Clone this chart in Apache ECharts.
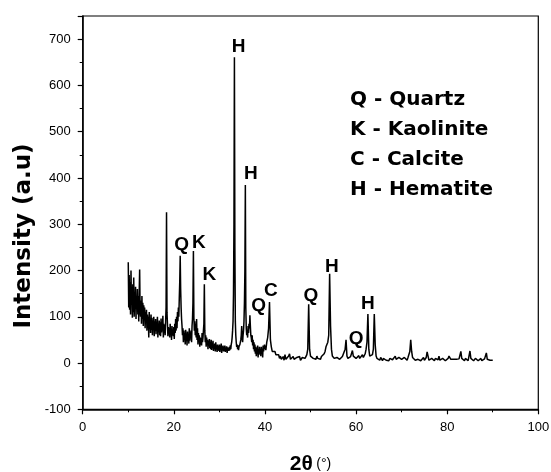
<!DOCTYPE html>
<html><head><meta charset="utf-8">
<script src="https://cdn.jsdelivr.net/npm/echarts@6/dist/echarts.min.js"></script>
<style>html,body{margin:0;padding:0;background:#fff}#c{width:551px;height:472px}</style>
</head><body><div id="c"></div>
<script>
// axis ticks
const xTicks = [0, 20, 40, 60, 80, 100];
const yTicks = [-100, 0, 100, 200, 300, 400, 500, 600, 700];

// scan part A: 10.0° - 39.9°, step 0.1°
const scanStartA = 10.0, scanStepA = 0.1;
const intensityA = [
  218,120,190,115,175,105,200,130,160,98,
  170,110,185,100,150,125,165,95,140,118,
  160,105,145,90,150,202,115,100,135,85,
  145,95,130,80,125,100,120,75,110,90,
  115,70,105,85,100,55,110,78,95,65,
  105,72,98,60,92,80,100,58,90,70,
  95,62,88,75,100,55,85,70,92,60,
  88,58,96,66,80,72,102,55,85,68,
  82,60,90,120,326,110,85,58,78,62,
  75,55,85,62,72,50,80,60,70,58,
  78,52,85,65,95,70,100,75,110,90,
  120,100,140,175,232,160,120,95,80,60,
  75,45,70,52,65,40,72,55,62,38,
  68,50,60,42,75,48,65,55,70,45,
  80,95,130,242,100,70,90,60,85,55,
  95,50,75,40,65,45,60,35,55,48,
  50,38,65,45,55,70,85,170,70,45,
  60,35,55,42,50,30,48,38,52,32,
  45,30,50,28,44,35,48,26,40,32,
  42,25,45,30,38,24,40,28,36,26,
  40,24,38,28,42,22,36,27,38,25,
  35,26,38,24,33,28,36,22,34,27,
  32,26,35,28,38,30,40,45,55,70,
  90,150,300,661,250,90,60,45,35,40,
  30,38,28,35,32,40,38,50,60,80,
  55,45,60,70,90,130,200,385,120,75,
  60,70,55,80,65,85,75,103,80,60,
  55,45,60,38,50,30,45,25,40,20,
  35,15,32,20,38,12,30,18,35,22,
  28,15,35,20,30,12,38,25,32,40
];

// scan part B: 40.0° - 90.0°, step 0.2°
const scanStartB = 40.0, scanStepB = 0.2;
const intensityB = [
  35,28,45,55,75,
  132,50,35,25,28,
  22,25,18,20,15,
  18,10,15,8,12,
  14,6,18,8,12,
  10,15,20,8,12,
  10,14,8,12,6,
  12,8,10,14,6,
  10,12,8,15,10,
  12,18,30,127,30,
  15,12,18,10,14,
  12,8,15,10,6,
  12,8,14,10,15,
  20,25,35,40,45,
  60,193,80,30,15,
  12,10,14,8,12,
  10,15,8,12,10,
  14,10,15,30,50,
  15,10,12,8,14,
  10,27,15,12,18,
  10,14,12,16,10,
  14,12,18,12,15,
  20,30,45,106,30,
  15,12,14,18,30,
  106,40,15,10,8,
  10,6,12,8,5,
  10,7,12,6,9,
  8,5,10,6,12,
  7,10,5,15,8,
  10,6,12,8,14,
  8,10,6,12,8,
  10,6,12,15,25,
  50,25,12,8,10,
  6,10,5,8,6,
  10,5,8,6,12,
  6,8,12,24,15,
  6,8,5,10,6,
  8,5,10,6,12,
  7,15,6,8,5,
  10,6,8,5,9,
  6,10,15,19,8,
  12,6,8,5,10,
  8,5,6,9,7,
  25,10,6,8,5,
  10,6,8,5,9,
  26,10,6,8,5,
  7,10,6,8,5,
  9,6,10,5,8,
  6,9,12,22,8,
  5,8,6,4,7,
  6
];

// phase labels (label centre position in data units)
const peakTheta  = [21.7, 25.5, 27.8, 34.2, 36.9, 38.6, 41.3, 50.1, 54.7, 60.0, 62.6];
const peakHeight = [256, 259, 190, 684, 408, 124, 157, 146, 209, 52, 128];
const peakPhase  = ['Q', 'K', 'K', 'H', 'H', 'Q', 'C', 'Q', 'H', 'Q', 'H'];

const legendLines = ['Q - Quartz', 'K - Kaolinite', 'C - Calcite', 'H - Hematite'];

const scan = [];
intensityA.forEach((v, i) => scan.push([+(scanStartA + i * scanStepA).toFixed(2), v]));
intensityB.forEach((v, i) => scan.push([+(scanStartB + i * scanStepB).toFixed(2), v]));
const peakData = peakTheta.map((t, i) => [t, peakHeight[i]]);

const chart = echarts.init(document.getElementById('c'), null, {renderer: 'canvas'});
const legendY = [100, 130, 160, 190];
chart.setOption({
  animation: false,
  backgroundColor: '#fff',
  grid: {left: 82.7, right: 12.7, top: 16, bottom: 62.7, outerBoundsMode: 'none', containLabel: false,
    show: true, borderColor: '#000', borderWidth: 1.2, backgroundColor: 'transparent'},
  xAxis: {
    type: 'value', min: xTicks[0], max: xTicks[xTicks.length - 1], interval: 20,
    axisLine: {onZero: false, lineStyle: {color: '#000', width: 1.5}},
    axisTick: {inside: false, length: 5, lineStyle: {color: '#000', width: 1.2}},
    minorTick: {show: true, splitNumber: 2, length: 3, lineStyle: {color: '#000', width: 1}},
    splitLine: {show: false},
    axisLabel: {color: '#000', fontFamily: 'Liberation Sans', fontSize: 13, margin: 12},
    name: '{b|2θ} {n|(°)}', nameLocation: 'middle', nameGap: 44,
    nameTextStyle: {rich: {
      b: {fontFamily: 'Liberation Sans', fontWeight: 'bold', fontSize: 21, color: '#000'},
      n: {fontFamily: 'Liberation Sans', fontSize: 14, color: '#000'}
    }}
  },
  yAxis: {
    type: 'value', min: yTicks[0], max: 750, interval: 100,
    axisLine: {onZero: false, lineStyle: {color: '#000', width: 1.5}},
    axisTick: {inside: false, length: 5, lineStyle: {color: '#000', width: 1.2}},
    minorTick: {show: true, splitNumber: 2, length: 3, lineStyle: {color: '#000', width: 1}},
    splitLine: {show: false},
    axisLabel: {color: '#000', fontFamily: 'Liberation Sans', fontSize: 13, margin: 12,
      formatter: v => (yTicks.indexOf(v) >= 0 ? String(v) : '')}
  },
  graphic: [
    {type: 'text', x: 24, y: 236, rotation: Math.PI / 2,
     style: {text: 'Intensity (a.u)', font: 'bold 23px "DejaVu Sans"', fill: '#000', align: 'center', verticalAlign: 'middle'}}
  ].concat(legendLines.map((t, i) => ({
    type: 'text', x: 350, y: legendY[i],
    style: {text: t, font: 'bold 20px "DejaVu Sans"', fill: '#000', align: 'left', verticalAlign: 'middle'}
  }))),
  series: [
    {type: 'line', data: scan, showSymbol: false, symbol: 'none',
     lineStyle: {color: '#000', width: 1.5}, silent: true},
    {type: 'scatter', data: peakData, symbolSize: 1, itemStyle: {color: '#fff', opacity: 0}, silent: true,
     emphasis: {disabled: true},
     label: {show: true, position: 'inside', opacity: 1, formatter: p => peakPhase[p.dataIndex],
       fontFamily: 'Liberation Sans', fontWeight: 'bold', fontSize: 19, color: '#000', textBorderWidth: 0}}
  ]
});
</script>
</body></html>
